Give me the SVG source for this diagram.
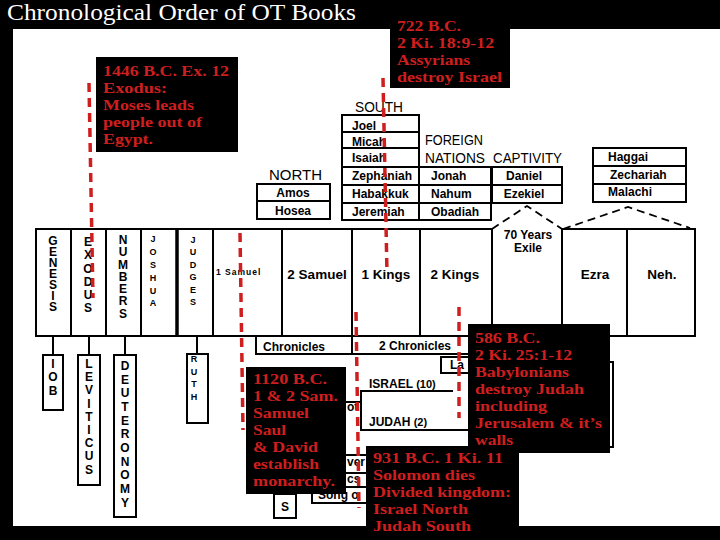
<svg xmlns="http://www.w3.org/2000/svg" width="720" height="540" viewBox="0 0 720 540">
<style>
.box{fill:#fff;stroke:#000;stroke-width:2}
.ln{stroke:#000;stroke-width:2;fill:none}
.bk{fill:#000}
.note{font-family:"Liberation Serif",serif;font-weight:bold;font-size:15.5px;fill:#cf1e1e}
.b{font-family:"Liberation Sans",sans-serif;font-weight:bold;font-size:12px;fill:#000}
.v{font-family:"Liberation Sans",sans-serif;font-weight:bold;font-size:12px;fill:#000;writing-mode:vertical-rl;text-orientation:upright}
.vs{font-family:"Liberation Sans",sans-serif;font-weight:bold;font-size:9px;fill:#000;writing-mode:vertical-rl;text-orientation:upright}
.hd{font-family:"Liberation Sans",sans-serif;font-size:15px;fill:#000}
.big{font-family:"Liberation Sans",sans-serif;font-weight:bold;font-size:13.5px;fill:#000;text-anchor:middle}
.red{stroke:#cf1e1e;stroke-width:3.5;stroke-dasharray:9 6;fill:none}
.dash{stroke:#000;stroke-width:1.8;stroke-dasharray:8 5;fill:none}
</style>
<rect x="0" y="0" width="720" height="540" fill="#000"/>
<rect x="13" y="29" width="707" height="497" fill="#fff"/>
<text x="7" y="20" font-family="Liberation Serif, serif" font-size="24" fill="#fff" textLength="349" lengthAdjust="spacingAndGlyphs">Chronological Order of OT Books</text>

<!-- main timeline row -->
<g id="genesis"><rect class="box" x="36" y="229" width="35" height="107"/>
<text class="v" x="53" y="233.5" textLength="80.5" lengthAdjust="spacing">GENESIS</text></g>
<g id="exodus"><rect class="box" x="71" y="229" width="35" height="107"/>
<text class="v" x="88" y="235" textLength="80.4" lengthAdjust="spacing">EXODUS</text></g>
<g id="numbers"><rect class="box" x="106" y="229" width="35" height="107"/>
<text class="v" x="123" y="233" textLength="87.5" lengthAdjust="spacing">NUMBERS</text></g>
<g id="joshua"><rect class="box" x="141" y="229" width="36" height="107"/>
<text class="vs" x="153" y="234" textLength="74.4" lengthAdjust="spacing">JOSHUA</text></g>
<g id="judges"><rect class="box" x="177" y="229" width="36" height="107"/><line x1="177" y1="229" x2="177" y2="336" stroke="#000" stroke-width="3.5"/>
<text class="vs" x="193" y="235" textLength="72" lengthAdjust="spacing">JUDGES</text></g>
<g id="samuel1"><rect class="box" x="213" y="229" width="69" height="107"/>
<text x="216" y="275" font-family="Liberation Sans, sans-serif" font-weight="bold" font-size="8.5" letter-spacing="1">1 Samuel</text></g>
<g id="samuel2"><rect class="box" x="282" y="229" width="70" height="107"/><text class="big" x="317" y="279">2 Samuel</text></g>
<g id="kings1"><rect class="box" x="352" y="229" width="68" height="107"/><text class="big" x="386" y="279">1 Kings</text></g>
<g id="kings2"><rect class="box" x="420" y="229" width="72" height="107"/><text class="big" x="455" y="279">2 Kings</text></g>
<g id="exile"><path class="ln" d="M492,229 V336 H562 V229"/>
<text class="b" x="528" y="239" text-anchor="middle" font-size="11">70 Years</text>
<text class="b" x="528" y="252" text-anchor="middle" font-size="11">Exile</text></g>
<g id="ezra"><rect class="box" x="562" y="229" width="65" height="107"/><text class="big" x="595" y="279">Ezra</text></g>
<g id="nehemiah"><rect class="box" x="627" y="229" width="68" height="107"/><text class="big" x="662" y="279">Neh.</text></g>

<!-- upper prophets -->
<g id="north"><text class="hd" x="269" y="180" textLength="53" lengthAdjust="spacingAndGlyphs">NORTH</text>
<rect class="box" x="257" y="184" width="73" height="35"/><line class="ln" x1="257" y1="201" x2="330" y2="201"/>
<text class="b" x="293" y="197" text-anchor="middle">Amos</text><text class="b" x="293" y="215" text-anchor="middle">Hosea</text></g>
<g id="south"><text class="hd" x="355" y="112" textLength="48" lengthAdjust="spacingAndGlyphs">SOUTH</text>
<rect class="box" x="342" y="115" width="77" height="105"/>
<path class="ln" d="M342,132H419M342,148H419M342,167H419M342,185H419M342,203H419"/>
<text class="b" x="352" y="130">Joel</text><text class="b" x="352" y="146">Micah</text><text class="b" x="352" y="162">Isaiah</text>
<text class="b" x="352" y="180">Zephaniah</text><text class="b" x="352" y="198">Habakkuk</text><text class="b" x="352" y="216">Jeremiah</text></g>
<g id="foreign"><text class="hd" x="425" y="145" textLength="58" lengthAdjust="spacingAndGlyphs">FOREIGN</text>
<text class="hd" x="425" y="163" textLength="60" lengthAdjust="spacingAndGlyphs">NATIONS</text>
<rect class="box" x="419" y="167" width="72" height="53"/><path class="ln" d="M419,185H491M419,203H491"/>
<text class="b" x="431" y="180">Jonah</text><text class="b" x="431" y="198">Nahum</text><text class="b" x="431" y="216">Obadiah</text></g>
<g id="captivity"><text class="hd" x="493" y="163" textLength="69" lengthAdjust="spacingAndGlyphs">CAPTIVITY</text>
<rect class="box" x="492" y="167" width="70" height="36"/><line class="ln" x1="492" y1="185" x2="562" y2="185"/>
<text class="b" x="524" y="180" text-anchor="middle">Daniel</text><text class="b" x="524" y="198" text-anchor="middle">Ezekiel</text></g>
<g id="postexile"><rect class="box" x="593" y="148" width="93" height="54"/><path class="ln" d="M593,166H686M593,184H686"/>
<text class="b" x="608" y="161">Haggai</text><text class="b" x="610" y="179">Zechariah</text><text class="b" x="608" y="196">Malachi</text></g>

<!-- lower books -->
<g id="job"><rect class="box" x="43" y="355" width="20" height="55"/>
<text class="v" x="53" y="357" textLength="40.5" lengthAdjust="spacing">IOB</text></g>
<g id="leviticus"><rect class="box" x="78" y="355" width="22" height="130"/>
<text class="v" x="89" y="357" textLength="119.7" lengthAdjust="spacing">LEVITICUS</text></g>
<g id="deuteronomy"><rect class="box" x="114" y="355" width="22" height="162"/>
<text class="v" x="125" y="359" textLength="150.7" lengthAdjust="spacing">DEUTERONOMY</text></g>
<g id="ruth"><rect class="box" x="187" y="354" width="21" height="69"/>
<text class="vs" font-size="10" x="194" y="354" textLength="48" lengthAdjust="spacing">RUTH</text></g>
<g id="chronicles1"><path class="ln" d="M256,336V354H352"/><text class="b" x="263" y="351">Chronicles</text></g>
<g id="chronicles2"><path class="ln" d="M352,336V354H470"/><text class="b" x="415" y="350" text-anchor="middle">2 Chronicles</text></g>
<g id="lamentations"><path class="ln" d="M470,373H441V357H470"/><text class="b" x="450" y="369">La</text>
<rect class="box" x="560" y="362" width="53" height="85"/></g>
<g id="kingdoms"><path class="ln" d="M453,391H361V430H470"/><line class="ln" x1="346" y1="402" x2="361" y2="402"/>
<text class="b" x="347" y="411" font-size="9">ot</text>
<text class="b" x="369" y="388" font-size="13">ISRAEL <tspan font-size="11">(10)</tspan></text>
<text class="b" x="369" y="426" font-size="13">JUDAH <tspan font-size="11">(2)</tspan></text></g>
<g id="wisdom"><path class="ln" d="M346,455H366M346,473H366M346,487H366M312,487V503H366"/>
<text class="b" x="347" y="466" font-size="10">ver</text><text class="b" x="347" y="483" font-size="10">cs</text>
<text class="b" x="318" y="499" font-size="10">Song o</text></g>
<g id="psalms"><rect class="box" x="274" y="494" width="22" height="24"/><text class="b" x="285" y="511" text-anchor="middle">S</text></g>

<!-- connectors -->
<g id="connectors">
<path class="ln" d="M53,336V355M89,336V355M125,336V355M197,336V354"/>
<path class="dash" d="M492,229L527,206L562,229"/>
<path class="dash" d="M563,229L628,207L690,228"/>
<line class="red" x1="89" y1="83" x2="93" y2="298"/>
<line class="red" x1="240" y1="233" x2="243" y2="430"/>
<line class="red" x1="383" y1="78" x2="387" y2="273"/>
<line class="red" x1="356" y1="312" x2="359" y2="508"/>
<line class="red" x1="459" y1="307" x2="459" y2="418"/>
</g>

<!-- event notes -->
<g id="note1446"><rect class="bk" x="96" y="57" width="142" height="95"/>
<text class="note" x="103" y="76" textLength="126" lengthAdjust="spacingAndGlyphs">1446 B.C. Ex. 12</text>
<text class="note" x="103" y="93" textLength="64" lengthAdjust="spacingAndGlyphs">Exodus:</text>
<text class="note" x="103" y="110" textLength="91" lengthAdjust="spacingAndGlyphs">Moses leads</text>
<text class="note" x="103" y="127" textLength="99" lengthAdjust="spacingAndGlyphs">people out of</text>
<text class="note" x="103" y="144" textLength="50" lengthAdjust="spacingAndGlyphs">Egypt.</text></g>
<g id="note722"><rect class="bk" x="390" y="20" width="120" height="68"/>
<text class="note" x="397" y="31" textLength="64" lengthAdjust="spacingAndGlyphs">722 B.C.</text>
<text class="note" x="397" y="48" textLength="97" lengthAdjust="spacingAndGlyphs">2 Ki. 18:9-12</text>
<text class="note" x="397" y="65" textLength="73" lengthAdjust="spacingAndGlyphs">Assyrians</text>
<text class="note" x="397" y="82" textLength="105" lengthAdjust="spacingAndGlyphs">destroy Israel</text></g>
<g id="note1120"><rect class="bk" x="246" y="367" width="100" height="127"/>
<text class="note" x="253" y="384" textLength="74" lengthAdjust="spacingAndGlyphs">1120 B.C.</text>
<text class="note" x="253" y="401" textLength="85" lengthAdjust="spacingAndGlyphs">1 &amp; 2 Sam.</text>
<text class="note" x="253" y="418" textLength="56" lengthAdjust="spacingAndGlyphs">Samuel</text>
<text class="note" x="253" y="435" textLength="33" lengthAdjust="spacingAndGlyphs">Saul</text>
<text class="note" x="253" y="452" textLength="65" lengthAdjust="spacingAndGlyphs">&amp; David</text>
<text class="note" x="253" y="469" textLength="66" lengthAdjust="spacingAndGlyphs">establish</text>
<text class="note" x="253" y="486" textLength="82" lengthAdjust="spacingAndGlyphs">monarchy.</text></g>
<g id="note586"><rect class="bk" x="468" y="324" width="142" height="129"/>
<text class="note" x="475" y="343" textLength="65" lengthAdjust="spacingAndGlyphs">586 B.C.</text>
<text class="note" x="475" y="360" textLength="97" lengthAdjust="spacingAndGlyphs">2 Ki. 25:1-12</text>
<text class="note" x="475" y="377" textLength="94" lengthAdjust="spacingAndGlyphs">Babylonians</text>
<text class="note" x="475" y="394" textLength="109" lengthAdjust="spacingAndGlyphs">destroy Judah</text>
<text class="note" x="475" y="411" textLength="72" lengthAdjust="spacingAndGlyphs">including</text>
<text class="note" x="475" y="428" textLength="127" lengthAdjust="spacingAndGlyphs">Jerusalem &amp; it’s</text>
<text class="note" x="475" y="445" textLength="38" lengthAdjust="spacingAndGlyphs">walls</text></g>
<g id="note931"><rect class="bk" x="366" y="446" width="153" height="94"/>
<text class="note" x="373" y="463" textLength="130" lengthAdjust="spacingAndGlyphs">931 B.C. 1 Ki. 11</text>
<text class="note" x="373" y="480" textLength="102" lengthAdjust="spacingAndGlyphs">Solomon dies</text>
<text class="note" x="373" y="497" textLength="138" lengthAdjust="spacingAndGlyphs">Divided kingdom:</text>
<text class="note" x="373" y="514" textLength="95" lengthAdjust="spacingAndGlyphs">Israel North</text>
<text class="note" x="373" y="531" textLength="98" lengthAdjust="spacingAndGlyphs">Judah South</text></g>
</svg>
